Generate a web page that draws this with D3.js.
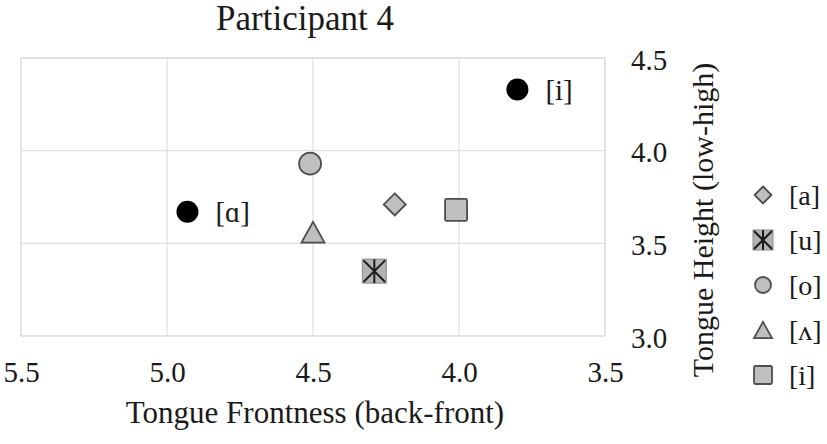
<!DOCTYPE html>
<html><head><meta charset="utf-8">
<script src="https://cdn.jsdelivr.net/npm/d3@7"></script>
<style>body{margin:0;background:#fff}svg{display:block}text{font-family:"Liberation Serif","Times New Roman",serif;fill:#1a1a1a}</style>
</head><body><svg id="c" width="827" height="444"></svg>
<script>
const title = "Participant 4";
const xTitle = "Tongue Frontness (back-front)";
const yTitle = "Tongue Height (low-high)";
const xTicks = [5.5, 5.0, 4.5, 4.0, 3.5];
const yTicks = [3.0, 3.5, 4.0, 4.5];
// vowel series (legend order)
const vowelLabels = ["[a]", "[u]", "[o]", "[ʌ]", "[i]"];
const vowelShapes = ["diamond", "astsquare", "circle", "triangle", "square"];
const frontness = [4.22, 4.29, 4.51, 4.50, 4.01];
const height = [3.71, 3.35, 3.93, 3.56, 3.68];
// reference (black) points
const refLabels = ["[ɑ]", "[i]"];
const refX = [4.93, 3.80];
const refY = [3.67, 4.33];

const svg = d3.select("#c");
const x = d3.scaleLinear().domain([5.5, 3.5]).range([21, 605]);
const y = d3.scaleLinear().domain([3.0, 4.5]).range([336, 58]);

// grid
svg.append("g").selectAll("line").data(xTicks).join("line")
  .attr("x1", d => x(d)).attr("x2", d => x(d)).attr("y1", y(4.5)).attr("y2", y(3.0))
  .attr("stroke", "#d9d9d9").attr("stroke-width", 1);
svg.append("g").selectAll("line").data(yTicks).join("line")
  .attr("x1", x(5.5)).attr("x2", x(3.5)).attr("y1", d => y(d)).attr("y2", d => y(d))
  .attr("stroke", "#d9d9d9").attr("stroke-width", 1);
svg.append("rect").attr("x", x(5.5)).attr("y", y(4.5)).attr("width", x(3.5) - x(5.5)).attr("height", y(3.0) - y(4.5))
  .attr("fill", "none").attr("stroke", "#d9d9d9");

// axes (labels only, via d3 axis)
const xAxis = svg.append("g").attr("transform", `translate(0,${y(3.0)})`)
  .call(d3.axisBottom(x).tickValues(xTicks).tickFormat(d3.format(".1f")).tickSize(0).tickPadding(25));
xAxis.select(".domain").remove();
xAxis.attr("font-family", null);
xAxis.selectAll("text").attr("font-size", 29).attr("fill", "#1a1a1a");

const yAxis = svg.append("g").attr("transform", `translate(${x(3.5)},0)`)
  .call(d3.axisRight(y).tickValues(yTicks).tickFormat(d3.format(".1f")).tickSize(0).tickPadding(26));
yAxis.select(".domain").remove();
yAxis.attr("font-family", null);
yAxis.selectAll("text").attr("font-size", 29).attr("fill", "#1a1a1a").attr("dy", "0.38em");

// titles
svg.append("text").attr("x", 305).attr("y", 30).attr("text-anchor", "middle").attr("font-size", 35).text(title);
svg.append("text").attr("x", 315).attr("y", 423).attr("text-anchor", "middle").attr("font-size", 31).text(xTitle);
svg.append("text").attr("transform", "translate(713,220) rotate(-90)").attr("text-anchor", "middle").attr("font-size", 30).text(yTitle);

function drawShape(g, type, s) {
  const fill = "#bfbfbf", stroke = "#4d4d4d";
  if (type === "circle") {
    g.append("circle").attr("r", s).attr("fill", fill).attr("stroke", stroke).attr("stroke-width", 1.8);
  } else if (type === "diamond") {
    g.append("path").attr("d", `M0,${-s}L${s},0L0,${s}L${-s},0Z`).attr("fill", fill).attr("stroke", stroke).attr("stroke-width", 1.8);
  } else if (type === "triangle") {
    const h = s * 1.8;
    g.append("path").attr("d", `M0,${-h/2}L${s},${h/2}L${-s},${h/2}Z`).attr("fill", fill).attr("stroke", stroke).attr("stroke-width", 1.8);
  } else if (type === "square") {
    g.append("rect").attr("x", -s).attr("y", -s).attr("width", 2*s).attr("height", 2*s).attr("rx", 1.5)
      .attr("fill", fill).attr("stroke", stroke).attr("stroke-width", 1.8);
  } else if (type === "astsquare") {
    g.append("rect").attr("x", -s).attr("y", -s).attr("width", 2*s).attr("height", 2*s)
      .attr("fill", "#b3b3b3").attr("stroke", "#8c8c8c").attr("stroke-width", 1);
    const a = s * 0.9;
    g.append("path").attr("d", `M0,${-s}L0,${s}M${-a},${-a}L${a},${a}M${a},${-a}L${-a},${a}`)
      .attr("stroke", "#1a1a1a").attr("stroke-width", 2).attr("fill", "none");
  }
}

// vowel points
const sizes = {diamond: 11, astsquare: 12, circle: 11, triangle: 11.5, square: 11};
vowelLabels.forEach((lab, i) => {
  const g = svg.append("g").attr("transform", `translate(${x(frontness[i])},${y(height[i])})`);
  drawShape(g, vowelShapes[i], sizes[vowelShapes[i]]);
});

// reference points
refLabels.forEach((lab, i) => {
  svg.append("circle").attr("cx", x(refX[i])).attr("cy", y(refY[i])).attr("r", 11).attr("fill", "#000");
  svg.append("text").attr("x", x(refX[i]) + 28).attr("y", y(refY[i])).attr("dy", "0.35em")
    .attr("font-size", 29).text(lab);
});

// legend
const legSizes = {diamond: 8.5, astsquare: 10, circle: 8, triangle: 9, square: 9};
vowelLabels.forEach((lab, i) => {
  const cy = 195 + i * 45;
  const g = svg.append("g").attr("transform", `translate(763,${cy})`);
  drawShape(g, vowelShapes[i], legSizes[vowelShapes[i]]);
  svg.append("text").attr("x", 789).attr("y", cy).attr("dy", "0.35em").attr("font-size", 28).text(lab);
});
</script></body></html>
